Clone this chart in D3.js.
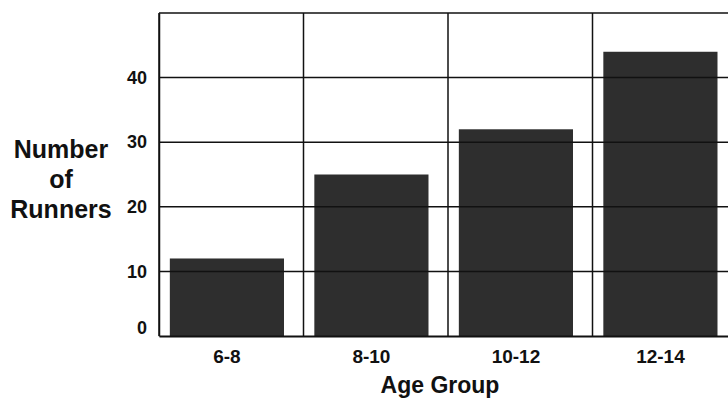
<!DOCTYPE html>
<html>
<head>
<meta charset="utf-8">
<script src="https://cdn.jsdelivr.net/npm/d3@7"></script>
<style>
  html, body { margin: 0; padding: 0; background: #fff; }
  svg { display: block; }
  text { font-family: "Liberation Sans", Arial, Helvetica, sans-serif; font-weight: bold; fill: #111; }
</style>
</head>
<body>
<svg id="chart" width="728" height="400"></svg>
<script>
const categories = ["6-8", "8-10", "10-12", "12-14"];
const runners = [12, 25, 32, 44];
const yTicks = [0, 10, 20, 30, 40];
const gridValues = [10, 20, 30, 40, 50];
const yTitleLines = ["Number", "of", "Runners"];
const xTitle = "Age Group";

(function () {
const svg = d3.select("#chart");
const mLeft = 159, mRight = 737, mTop = 13, mBottom = 336;

const x = d3.scaleBand().domain(categories).range([mLeft, mRight]).paddingInner(0).paddingOuter(0);
const y = d3.scaleLinear().domain([0, 50]).range([mBottom, mTop]);

const bw = x.bandwidth();

// bars
svg.append("g").selectAll("rect").data(categories).join("rect")
  .attr("x", d => x(d) + bw * 0.075)
  .attr("width", bw * 0.79)
  .attr("y", (d, i) => y(runners[i]))
  .attr("height", (d, i) => y(0) - y(runners[i]))
  .attr("fill", "#2e2e2e");

// horizontal grid lines
const grid = svg.append("g").attr("stroke", "#111").attr("stroke-width", 1.5);
grid.selectAll("line.h").data(gridValues).join("line")
  .attr("class", "h")
  .attr("x1", mLeft).attr("x2", mRight)
  .attr("y1", d => y(d)).attr("y2", d => y(d));

// vertical lines at band boundaries
const vEdges = categories.map(c => x(c)).concat([mRight]);
grid.selectAll("line.v").data(vEdges).join("line")
  .attr("class", "v")
  .attr("x1", d => d).attr("x2", d => d)
  .attr("y1", y(50)).attr("y2", y(0));

// x axis
const xAxis = d3.axisBottom(x).tickSize(0).tickPadding(14);
const gx = svg.append("g").attr("transform", `translate(0,${y(0)})`).call(xAxis);
gx.select(".domain").attr("stroke", "#111").attr("stroke-width", 2);
gx.selectAll(".tick text")
  .attr("x", bw * (0.075 + 0.79 / 2) - bw / 2)
  .attr("font-size", 19).attr("font-weight", "bold")
  .attr("font-family", "'Liberation Sans', Arial, sans-serif").attr("fill", "#111");

// y axis
const yAxis = d3.axisLeft(y).tickValues(yTicks).tickSize(0).tickPadding(12);
const gy = svg.append("g").attr("transform", `translate(${mLeft},0)`).call(yAxis);
gy.select(".domain").attr("stroke", "#111").attr("stroke-width", 1.5);
gy.selectAll(".tick text")
  .attr("font-size", 18).attr("font-weight", "bold")
  .attr("font-family", "'Liberation Sans', Arial, sans-serif").attr("fill", "#111");
gy.selectAll(".tick").filter(d => d === 0).select("text").attr("dy", "-0.15em");

// y title
svg.append("text")
  .attr("text-anchor", "middle")
  .attr("font-size", 25)
  .selectAll("tspan").data(yTitleLines).join("tspan")
  .attr("x", 61)
  .attr("y", (d, i) => 158 + i * 30)
  .text(d => d);

// x title
svg.append("text")
  .attr("x", 440).attr("y", 393)
  .attr("text-anchor", "middle")
  .attr("font-size", 23)
  .text(xTitle);
})();
</script>
</body>
</html>
